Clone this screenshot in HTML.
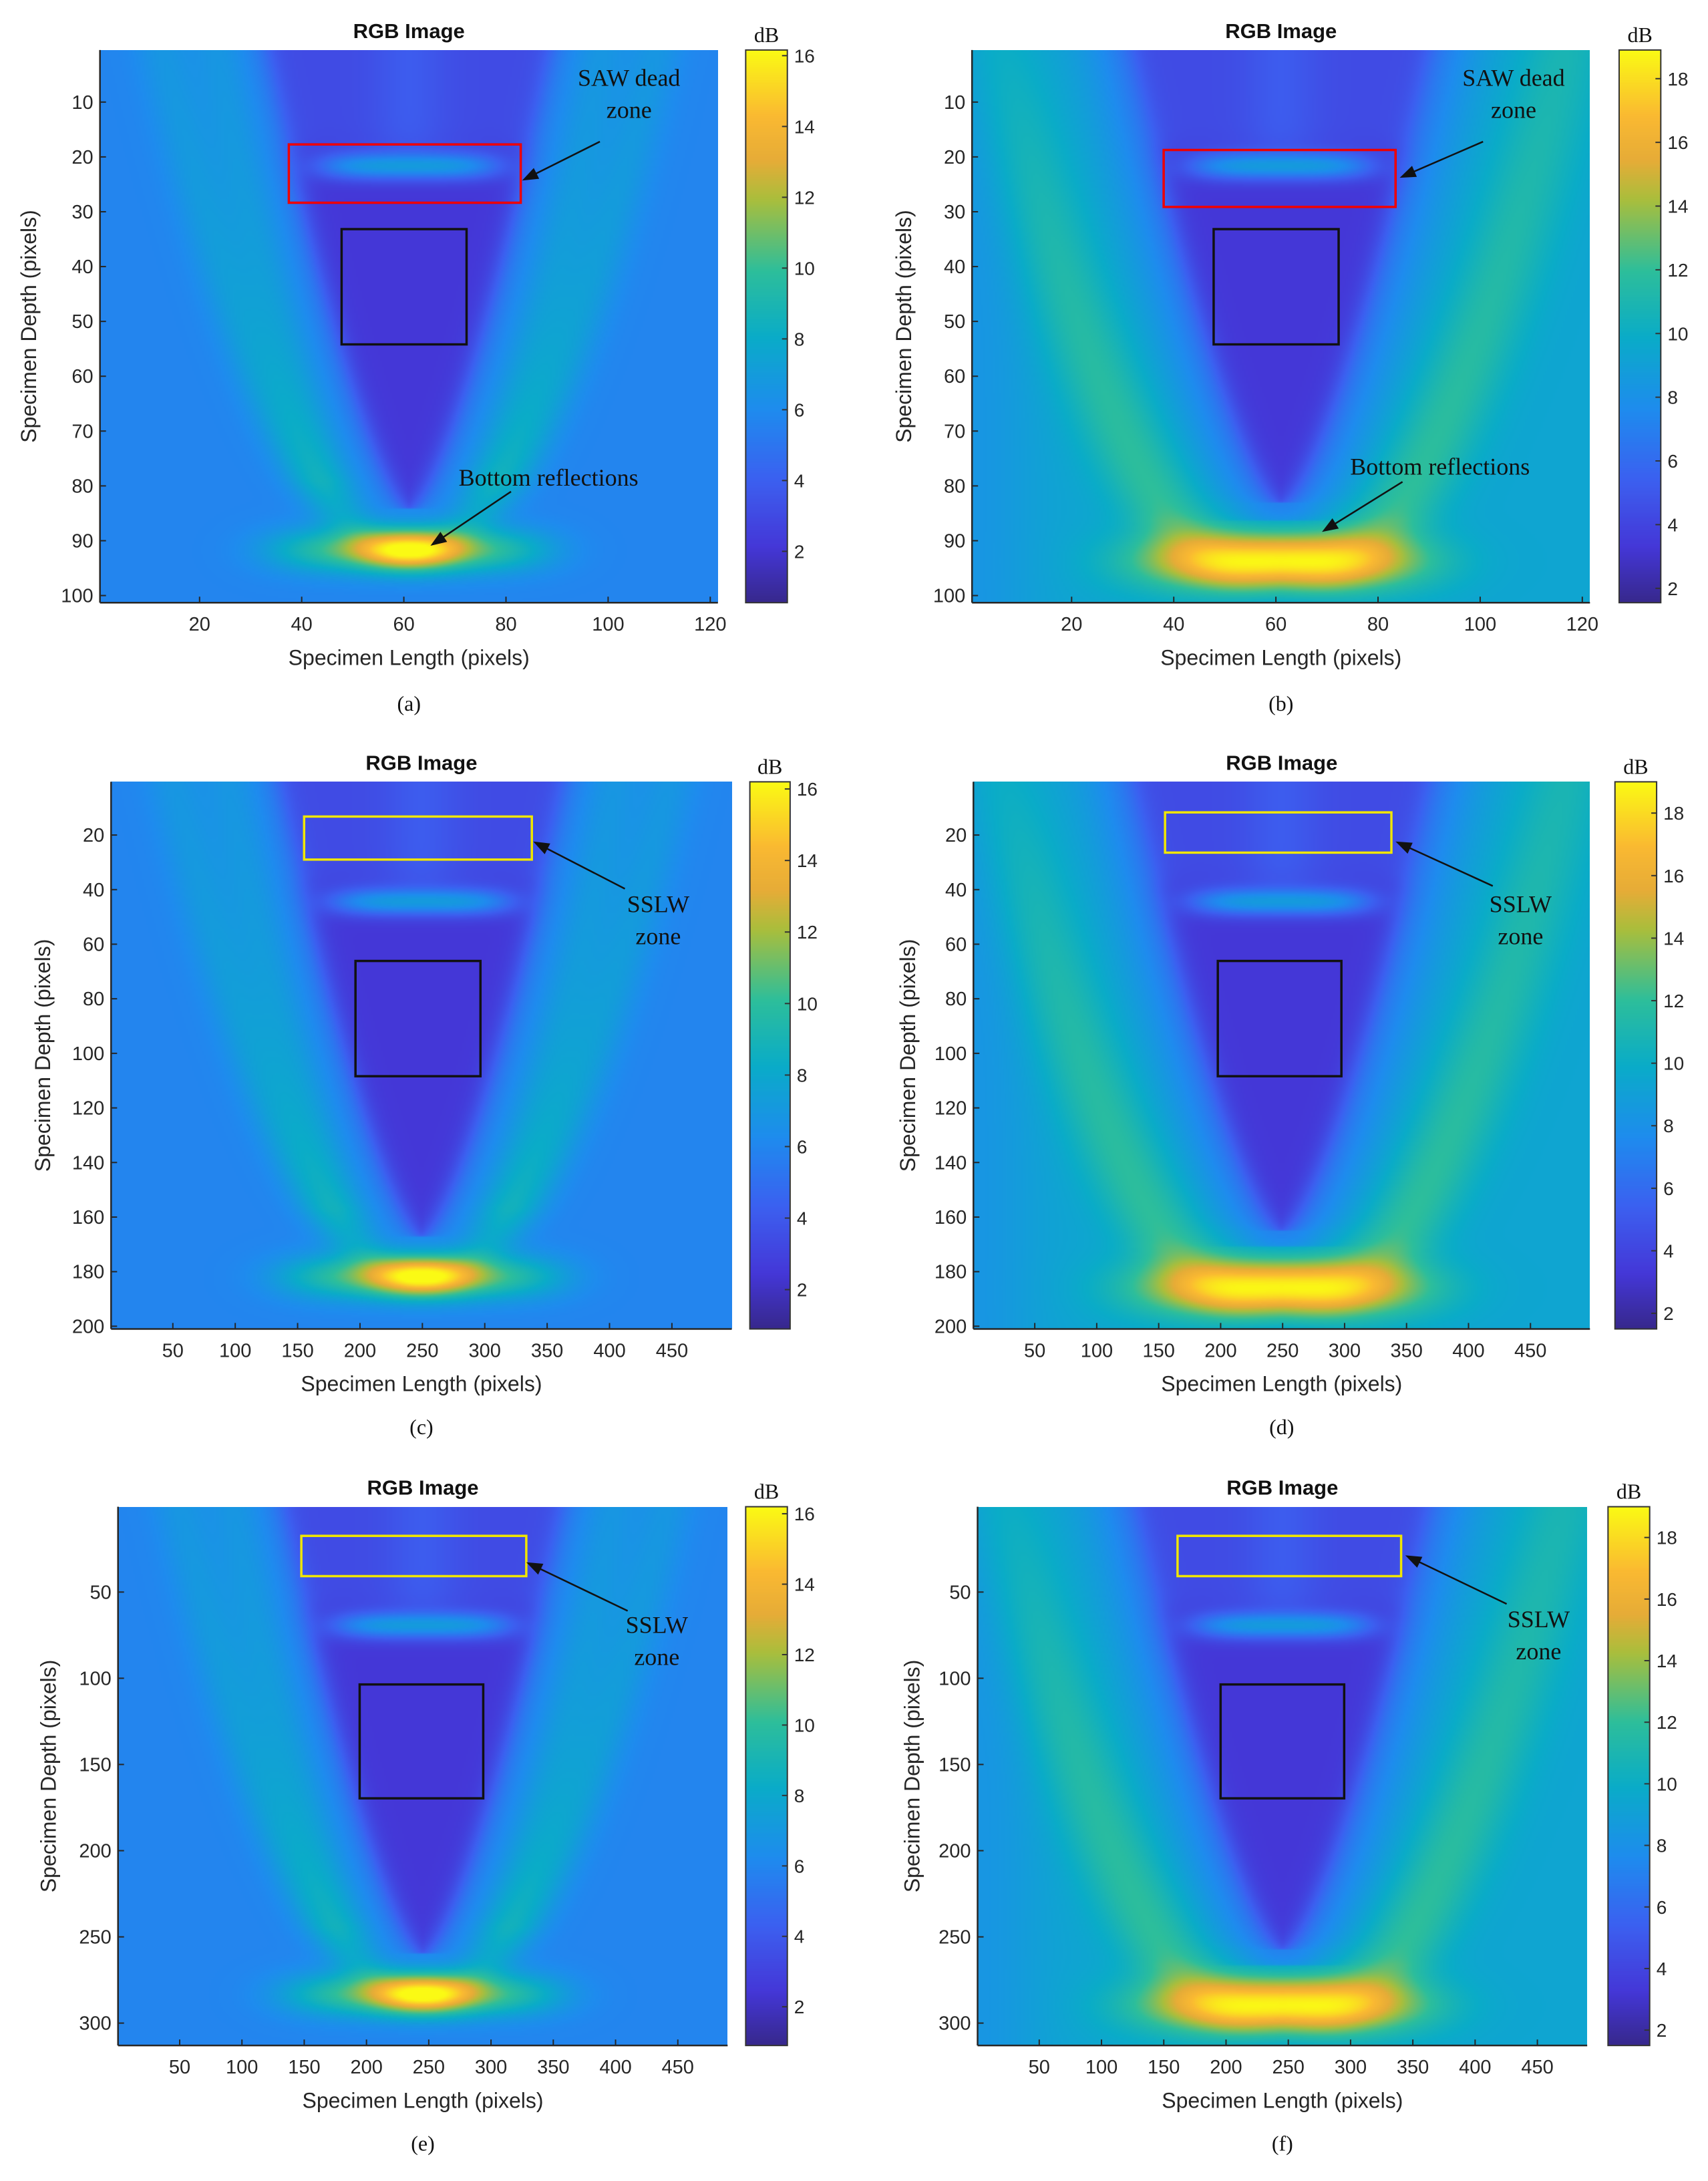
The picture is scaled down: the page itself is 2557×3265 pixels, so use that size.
<!DOCTYPE html>
<html><head><meta charset="utf-8">
<style>
html,body{margin:0;padding:0;background:#fff;}
#root{position:relative;width:2557px;height:3265px;overflow:hidden;background:#fff;}
canvas{position:absolute;}
svg{position:absolute;left:0;top:0;}
</style></head>
<body>
<div id="root">
<svg id="ov" width="2557" height="3265"></svg>
</div>
<script>
const S = 2557/1230;
// colorbar tick labels
const cbTicksNarrow = [2,4,6,8,10,12,14,16];
const cbTicksBroad = [2,4,6,8,10,12,14,16,18];
// axis tick labels
const xTicksA = [20,40,60,80,100,120];
const yTicksA = [10,20,30,40,50,60,70,80,90,100];
const xTicksC = [50,100,150,200,250,300,350,400,450];
const yTicksC = [20,40,60,80,100,120,140,160,180,200];
const yTicksE = [50,100,150,200,250,300];
const panels = [
 {id:'a',px:[72,517],py:[36,434],cb:[537,567],xr:[0.5,121.5],yr:[0.5,101.3],xt:xTicksA,yt:yTicksA,cr:[0.55,16.16],ct:cbTicksNarrow,broad:false,sawV:0.21,
  box:[208,375,104,146],boxCol:'#e00',blk:[246,336,165,248],txt:['SAW dead','zone'],tx:453,ty:56,ar:[432,102,376,130],
  bot:['Bottom reflections',395,344,[368,354,310,393]],ylx:22,xly:474,cap:506},
 {id:'b',px:[700,1145],py:[36,434],cb:[1166,1196],xr:[0.5,121.5],yr:[0.5,101.3],xt:xTicksA,yt:yTicksA,cr:[1.55,18.9],ct:cbTicksBroad,broad:true,sawV:0.21,
  box:[838,1005,108,149],boxCol:'#e00',blk:[874,964,165,248],txt:['SAW dead','zone'],tx:1090,ty:56,ar:[1068,102,1008,128],
  bot:['Bottom reflections',1037,336,[1010,347,952,383]],ylx:652,xly:474,cap:506},
 {id:'c',px:[80,527],py:[563,957],cb:[540,569],xr:[0.5,498],yr:[0.5,201],xt:xTicksC,yt:yTicksC,cr:[0.9,16.2],ct:cbTicksNarrow,broad:false,sawV:0.22,
  box:[219,383,588,619],boxCol:'#f0e600',blk:[256,346,692,775],txt:['SSLW','zone'],tx:474,ty:651,ar:[450,640,384,606],bot:null,ylx:32,xly:997,cap:1027},
 {id:'d',px:[701,1145],py:[563,957],cb:[1163,1193],xr:[0.5,498],yr:[0.5,201],xt:xTicksC,yt:yTicksC,cr:[1.5,19],ct:cbTicksBroad,broad:true,sawV:0.22,
  box:[839,1002,585,614],boxCol:'#f0e600',blk:[877,966,692,775],txt:['SSLW','zone'],tx:1095,ty:651,ar:[1075,638,1005,606],bot:null,ylx:655,xly:997,cap:1027},
 {id:'e',px:[85,524],py:[1085,1473],cb:[537,567],xr:[0.5,490],yr:[0.5,313],xt:xTicksC,yt:yTicksE,cr:[0.9,16.2],ct:cbTicksNarrow,broad:false,sawV:0.22,
  box:[217,379,1106,1135],boxCol:'#f0e600',blk:[259,348,1213,1295],txt:['SSLW','zone'],tx:473,ty:1170,ar:[452,1160,379,1125],bot:null,ylx:36,xly:1513,cap:1543},
 {id:'f',px:[704,1143],py:[1085,1473],cb:[1158,1188],xr:[0.5,490],yr:[0.5,313],xt:xTicksC,yt:yTicksE,cr:[1.5,19],ct:cbTicksBroad,broad:true,sawV:0.22,
  box:[848,1009,1106,1135],boxCol:'#f0e600',blk:[879,968,1213,1295],txt:['SSLW','zone'],tx:1108,ty:1166,ar:[1085,1155,1012,1120],bot:null,ylx:658,xly:1513,cap:1543}
];
const paraStops = [[0,55,40,140],[0.1,68,55,215],[0.22,60,95,240],[0.35,30,140,238],[0.48,10,172,200],[0.6,45,190,155],[0.73,170,190,60],[0.8,230,172,55],[0.88,250,185,50],[1,250,250,20]];
function cmap(t){t=Math.max(0,Math.min(1,t));for(let i=1;i<paraStops.length;i++){if(t<=paraStops[i][0]){const a=paraStops[i-1],b=paraStops[i],f=(t-a[0])/(b[0]-a[0]);return [a[1]+(b[1]-a[1])*f,a[2]+(b[2]-a[2])*f,a[3]+(b[3]-a[3])*f];}}return paraStops[paraStops.length-1].slice(1);}
const PN={bg:0.33,arcR:[0.31,0.40],arcV:0.93,arcA:0.1,arcW:0.045,coneW:0.23,coneV:0.83,coneT:0.1,sawA:0.3,spotA:0.42,spotSx:0.08,spotSy:0.035,spotV:0.905,bandA:0.3,bandSx:0.22,bandSy:0.04,halo:0.0,edge:0};
const PB={bg:0.45,arcR:[0.46],arcV:1.0,arcA:0.14,arcW:0.07,coneW:0.24,coneV:0.82,coneT:0.1,sawA:0.3,spotA:0.38,spotSx:0.17,spotSy:0.05,spotV:0.925,bandA:0.2,bandSx:0.26,bandSy:0.055,halo:0.14,edge:0.06};
function field(u,v,P,sawV){
 const du=u-0.5,a=Math.abs(du);
 let t=P.bg - P.edge*Math.exp(-Math.pow(u/0.1,2));
 const s=Math.max(0,1-v/P.arcV);
 const fade=Math.min(1,Math.max(0,(P.arcV-v)/0.15));
 for(const r of P.arcR){const tg=r*Math.sqrt(s);const d=Math.abs(a-tg);t+=P.arcA*(0.6+0.6*v)*fade*Math.exp(-(d/P.arcW)*(d/P.arcW));}
 const half=P.coneW*Math.pow(Math.max(0,1-v/P.coneV),0.7);
 t-=P.halo*Math.exp(-Math.pow((a-half)/0.08,2))*(v<P.coneV+0.03?1:0.3);
 const c=v<P.coneV?1/(1+Math.exp(-(half-a)/0.012)):0;
 const up=1/(1+Math.exp((v-sawV+0.03)/0.012));
 const ct=P.coneT + 0.06*up + 0.05*Math.exp(-Math.pow(du/0.06,2))*up;
 t=t*(1-c)+ct*c;
 t+=P.sawA*Math.exp(-Math.pow((v-sawV)/0.025,2))*Math.exp(-Math.pow(du/0.15,4))*c;
 t+=P.spotA*Math.exp(-Math.pow(du/P.spotSx,2)-Math.pow((v-P.spotV)/P.spotSy,2));
 t+=P.bandA*Math.exp(-Math.pow(du/P.bandSx,4)-Math.pow((v-P.spotV)/P.bandSy,2));
 return t;
}
const root=document.getElementById('root');
const ov=document.getElementById('ov');
const NS='http://www.w3.org/2000/svg';
function el(tag,attrs,txt){const e=document.createElementNS(NS,tag);for(const k in attrs)e.setAttribute(k,attrs[k]);if(txt!==undefined)e.textContent=txt;ov.appendChild(e);return e;}
const sans='"Liberation Sans", sans-serif', serif='"Liberation Serif", serif';
panels.forEach(p=>{
 const x0=p.px[0]*S,x1=p.px[1]*S,y0=p.py[0]*S,y1=p.py[1]*S,W=x1-x0,H=y1-y0;
 const P=p.broad?PB:PN;
 const cv=document.createElement('canvas');
 
 
 const cw=Math.round(W/3),ch=Math.round(H/3);
 cv.width=cw;cv.height=ch;cv.style.left=x0+'px';cv.style.top=y0+'px';cv.style.width=W+'px';cv.style.height=H+'px';
 const ctx=cv.getContext('2d');const img=ctx.createImageData(cw,ch);
 for(let j=0;j<ch;j++)for(let i=0;i<cw;i++){const c=cmap(field((i+0.5)/cw,(j+0.5)/ch,P,p.sawV));const k=(j*cw+i)*4;img.data[k]=c[0];img.data[k+1]=c[1];img.data[k+2]=c[2];img.data[k+3]=255;}
 ctx.putImageData(img,0,0);root.insertBefore(cv,ov);
 const cx0=p.cb[0]*S,cx1=p.cb[1]*S;
 const cb=document.createElement('canvas');
 
 
 cb.width=1;cb.height=200;cb.style.left=cx0+'px';cb.style.top=y0+'px';cb.style.width=(cx1-cx0)+'px';cb.style.height=H+'px';
 const bc=cb.getContext('2d');for(let j=0;j<200;j++){const c=cmap(1-(j+0.5)/200);bc.fillStyle='rgb('+c.map(Math.round).join(',')+')';bc.fillRect(0,j,1,1);}
 root.insertBefore(cb,ov);
 el('rect',{x:cx0,y:y0,width:cx1-cx0,height:H,fill:'none',stroke:'#333','stroke-width':2,});
 const cy=v=>y1-(v-p.cr[0])/(p.cr[1]-p.cr[0])*H;
 p.ct.forEach(v=>{const y=cy(v);
  el('line',{x1:cx1-8,x2:cx1,y1:y,y2:y,stroke:'#333','stroke-width':2,});
  el('text',{x:cx1+10,y:y+10,'font-family':sans,'font-size':28,fill:'#262626',},v);});
 el('text',{x:(cx0+cx1)/2,y:y0-12,'text-anchor':'middle','font-family':serif,'font-size':32,fill:'#111',},'dB');
 el('line',{x1:x0,x2:x1,y1:y1,y2:y1,stroke:'#262626','stroke-width':2.5,});
 el('line',{x1:x0,x2:x0,y1:y0,y2:y1,stroke:'#262626','stroke-width':2.5,});
 const xs=v=>x0+(v-p.xr[0])/(p.xr[1]-p.xr[0])*W, ys=v=>y0+(v-p.yr[0])/(p.yr[1]-p.yr[0])*H;
 p.xt.forEach(v=>{const x=xs(v);
  el('line',{x1:x,x2:x,y1:y1,y2:y1-9,stroke:'#262626','stroke-width':2,});
  el('text',{x:x,y:y1+42,'text-anchor':'middle','font-family':sans,'font-size':29,fill:'#262626',},v);});
 p.yt.forEach(v=>{const y=ys(v);
  el('line',{x1:x0,x2:x0+9,y1:y,y2:y,stroke:'#262626','stroke-width':2,});
  el('text',{x:x0-10,y:y+10,'text-anchor':'end','font-family':sans,'font-size':29,fill:'#262626',},v);});
 el('text',{x:(x0+x1)/2,y:y0-18,'text-anchor':'middle','font-family':sans,'font-weight':'bold','font-size':31,fill:'#111',},'RGB Image');
 el('text',{x:(x0+x1)/2,y:p.xly*S+10,'text-anchor':'middle','font-family':sans,'font-size':32,fill:'#262626',},'Specimen Length (pixels)');
 const ylx=p.ylx*S,ylc=(y0+y1)/2;
 el('text',{x:ylx,y:ylc,'text-anchor':'middle','font-family':sans,'font-size':32,fill:'#262626',transform:'rotate(-90 '+ylx+' '+ylc+')','dominant-baseline':'middle',},'Specimen Depth (pixels)');
 el('text',{x:(x0+x1)/2,y:p.cap*S+12,'text-anchor':'middle','font-family':serif,'font-size':32,fill:'#111',},'('+p.id+')');
 const b=p.box;el('rect',{x:b[0]*S,y:b[2]*S,width:(b[1]-b[0])*S,height:(b[3]-b[2])*S,fill:'none',stroke:p.boxCol,'stroke-width':3.5,});
 const k=p.blk;el('rect',{x:k[0]*S,y:k[2]*S,width:(k[1]-k[0])*S,height:(k[3]-k[2])*S,fill:'none',stroke:'#111','stroke-width':3.5,});
 el('text',{x:p.tx*S,y:p.ty*S+12,'text-anchor':'middle','font-family':serif,'font-size':36,fill:'#111',},p.txt[0]);
 el('text',{x:p.tx*S,y:p.ty*S+60,'text-anchor':'middle','font-family':serif,'font-size':36,fill:'#111',},p.txt[1]);
 function arrow(a,name){const ax=a[0]*S,ay=a[1]*S,bx=a[2]*S,by=a[3]*S;const ang=Math.atan2(by-ay,bx-ax),L=24,w=9;
  el('line',{x1:ax,y1:ay,x2:bx-Math.cos(ang)*L*0.8,y2:by-Math.sin(ang)*L*0.8,stroke:'#111','stroke-width':2.5,});
  const pts=[[bx,by],[bx-L*Math.cos(ang)+w*Math.sin(ang),by-L*Math.sin(ang)-w*Math.cos(ang)],[bx-L*Math.cos(ang)-w*Math.sin(ang),by-L*Math.sin(ang)+w*Math.cos(ang)]];
  el('polygon',{points:pts.map(q=>q.join(',')).join(' '),fill:'#111',});}
 arrow(p.ar,'zone-arrow');
 if(p.bot){el('text',{x:p.bot[1]*S,y:p.bot[2]*S+12,'text-anchor':'middle','font-family':serif,'font-size':36,fill:'#111',},p.bot[0]);arrow(p.bot[3],'bottom-reflections-arrow');}
});
</script>
</body></html>
